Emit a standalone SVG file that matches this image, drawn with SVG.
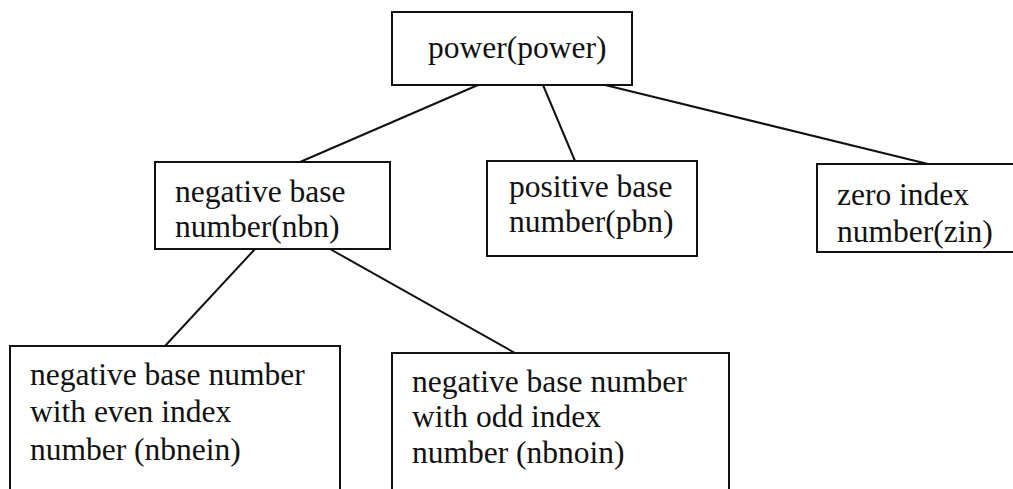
<svg xmlns="http://www.w3.org/2000/svg" width="1013" height="489" viewBox="0 0 1013 489">
  <style>
    .box { fill: #ffffff; stroke: #111111; stroke-width: 2; }
    .edge { fill: none; stroke: #111111; stroke-width: 2; }
    .label { font-family: 'Liberation Serif', Tinos, 'Times New Roman', Times, 'DejaVu Serif', serif; font-size: 31.5px; fill: #111111; }
  </style>
  <rect width="1013" height="489" fill="#ffffff"/>

  <!-- tree connectors -->
  <g id="connectors">
    <line class="edge" x1="478" y1="85" x2="300" y2="162"/>
    <line class="edge" x1="543" y1="85" x2="575" y2="161"/>
    <line class="edge" x1="605" y1="85" x2="928" y2="164"/>
    <line class="edge" x1="255" y1="249" x2="165" y2="346"/>
    <line class="edge" x1="330" y1="249" x2="515" y2="353"/>
  </g>

  <g id="power">
    <rect class="box" x="392" y="12" width="240" height="73"/>
    <text class="label" x="428" y="58" font-family="Liberation Serif, serif">power(power)</text>
  </g>

  <g id="nbn">
    <rect class="box" x="155" y="162" width="235" height="87"/>
    <text class="label" x="175" y="202">negative base</text>
    <text class="label" x="175" y="237">number(nbn)</text>
  </g>

  <g id="pbn">
    <rect class="box" x="487" y="161" width="210" height="95"/>
    <text class="label" x="509" y="197">positive base</text>
    <text class="label" x="509" y="232">number(pbn)</text>
  </g>

  <g id="zin">
    <rect class="box" x="817" y="164" width="210" height="88"/>
    <text class="label" x="837" y="205">zero index</text>
    <text class="label" x="837" y="242">number(zin)</text>
  </g>

  <g id="nbnein">
    <rect class="box" x="10" y="346" width="330" height="160"/>
    <text class="label" x="30" y="385">negative base number</text>
    <text class="label" x="30" y="422">with even index</text>
    <text class="label" x="30" y="460">number (nbnein)</text>
  </g>

  <g id="nbnoin">
    <rect class="box" x="392" y="353" width="337" height="160"/>
    <text class="label" x="412" y="392">negative base number</text>
    <text class="label" x="412" y="427">with odd index</text>
    <text class="label" x="412" y="463">number (nbnoin)</text>
  </g>
</svg>
